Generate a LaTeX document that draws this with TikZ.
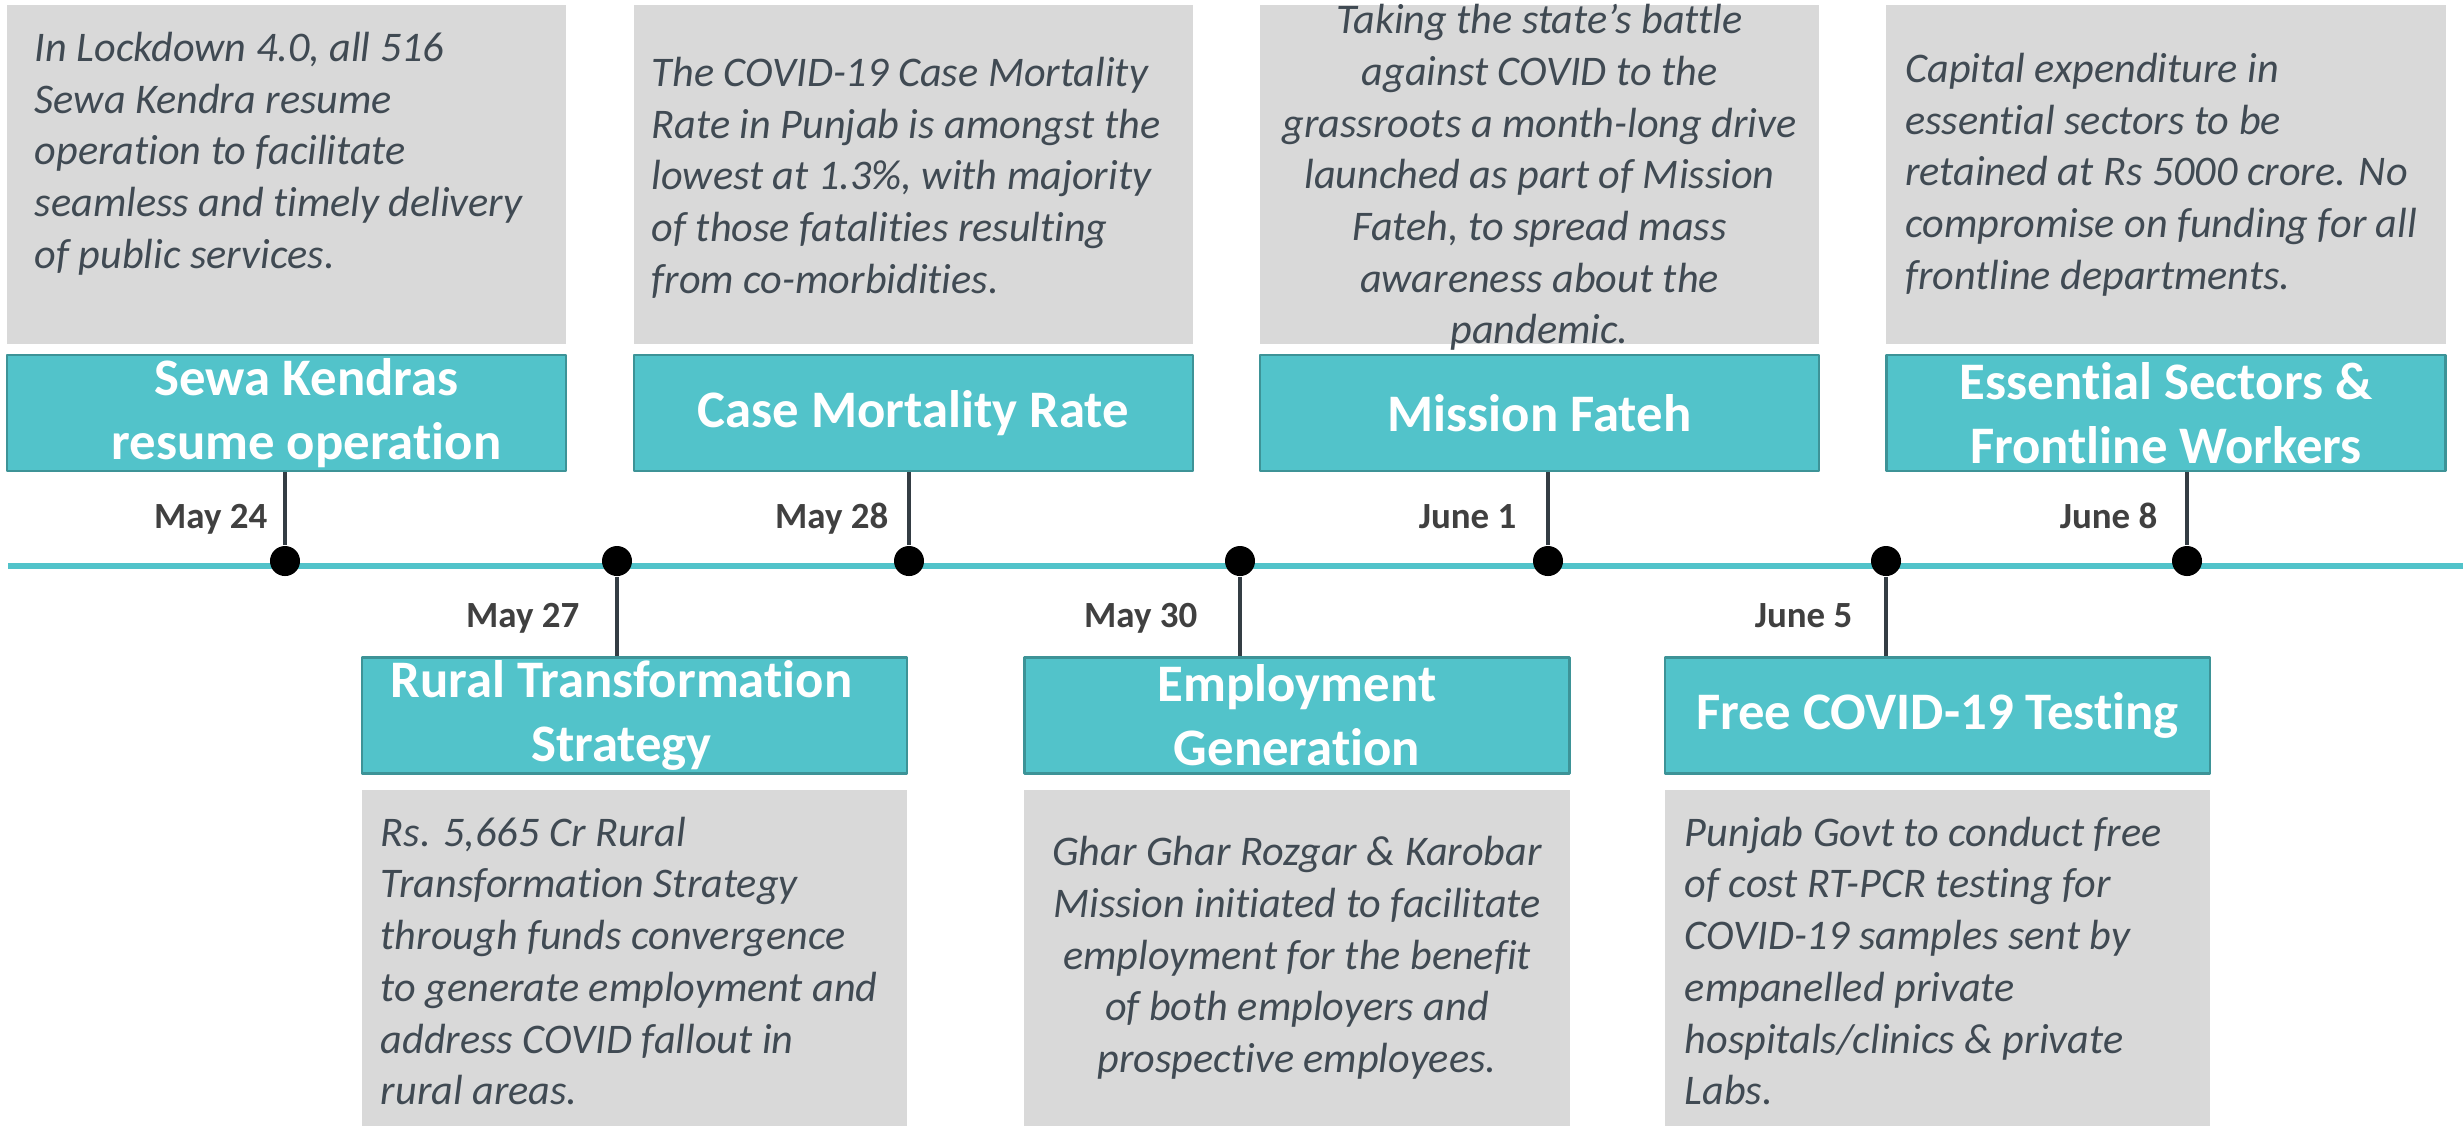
\documentclass[tikz,border=0pt]{standalone}
\usepackage{fontspec}
\setmainfont{Carlito}[Ligatures=NoCommon]
\definecolor{tealfill}{HTML}{52C3CA}
\definecolor{tealedge}{HTML}{3D9397}
\definecolor{notegray}{HTML}{D9D9D9}
\definecolor{notetext}{HTML}{404A53}
\definecolor{datetext}{HTML}{404040}
\definecolor{stemcol}{HTML}{343D44}
\begin{document}
\begin{tikzpicture}[x=0.01cm,y=-0.01cm,line join=round,
	title/.style={draw=tealedge,line width=0.7pt,fill=tealfill,text=white,font=\fontsize{15}{18.2}\selectfont\bfseries,align=center,minimum width=5.59cm,minimum height=1.16cm,inner sep=0pt},
	note/.style={fill=notegray,minimum width=5.59cm,minimum height=3.39cm,inner sep=0pt},
	low/.style={minimum width=5.45cm,minimum height=3.36cm},
	words/.style={text=notetext,font=\fontsize{12}{14.7}\selectfont\itshape,inner sep=0pt},
	date/.style={text=datetext,font=\fontsize{10.5}{12}\selectfont\bfseries,inner sep=0pt,anchor=base east},
	stem/.style={draw=stemcol,line width=1pt},
	dot/.style={circle,fill=black,minimum size=0.3cm,inner sep=0pt}]
			\useasboundingbox (0,0) rectangle (2463,1126);
			\coordinate (lineL) at (8,566);
			\coordinate (lineR) at (2463,566);
			\draw[tealfill,line width=0.06cm] (lineL)--(lineR);
			\node[note] (n1) at (286.5,174.5) {};
			\node[note] (n2) at (913.5,174.5) {};
			\node[note] (n3) at (1539.5,174.5) {};
			\node[note] (n4) at (2166,174.5) {};
			\node[note,low] (n5) at (634.5,958) {};
			\node[note,low] (n6) at (1297,958) {};
			\node[note,low] (n7) at (1937.5,958) {};
			\node[words,align=left,anchor=west] (w1) at ([xshift=0.28cm,yshift=0.21cm]n1.west) {In Lockdown 4.0, all 516\\Sewa Kendra resume\\operation to facilitate\\seamless and timely delivery\\of public services.};
			\node[words,align=left,anchor=west] (w2) at ([xshift=0.18cm,yshift=-0.03cm]n2.west) {The COVID-19 Case Mortality\\Rate in Punjab is amongst the\\lowest at 1.3\%, with majority\\of those fatalities resulting\\from co-morbidities.};
			\node[words,align=center] (w3) at ([yshift=-0.03cm]n3) {Taking the state’s battle\\against COVID to the\\grassroots a month-long drive\\launched as part of Mission\\Fateh, to spread mass\\awareness about the\\pandemic.};
			\node[words,align=left,anchor=west] (w4) at ([xshift=0.19cm]n4.west) {Capital expenditure in\\essential sectors to be\\retained at Rs 5000 crore. No\\compromise on funding for all\\frontline departments.};
			\node[words,align=left,anchor=west] (w5) at ([xshift=0.19cm,yshift=-0.03cm]n5.west) {Rs. 5,665 Cr Rural\\Transformation Strategy\\through funds convergence\\to generate employment and\\address COVID fallout in\\rural areas.};
			\node[words,align=center] (w6) at (n6) {Ghar Ghar Rozgar \& Karobar\\Mission initiated to facilitate\\employment for the benefit\\of both employers and\\prospective employees.};
			\node[words,align=left,anchor=west] (w7) at ([xshift=0.2cm,yshift=-0.03cm]n7.west) {Punjab Govt to conduct free\\of cost RT-PCR testing for\\COVID-19 samples sent by\\empanelled private\\hospitals/clinics \& private\\Labs.};
			\node[title] (t1) at (286.5,413) {\hspace*{0.4cm}Sewa Kendras\\\hspace*{0.4cm}resume operation};
			\node[title] (t2) at (913.5,413) {Case Mortality Rate};
			\node[title] (t3) at (1539.5,413) {Mission Fateh};
			\node[title] (t4) at (2166,413) {Essential Sectors \&\\Frontline Workers};
			\node[title,minimum width=5.45cm] (t5) at (634.5,715.5) {\hspace*{-0.26cm}Rural Transformation\\\hspace*{-0.26cm}Strategy};
			\node[title,minimum width=5.45cm] (t6) at (1297,715.5) {Employment\\Generation};
			\node[title,minimum width=5.45cm] (t7) at (1937.5,715.5) {Free COVID-19 Testing};
			\foreach \d/\xx in {d1/285,d2/617,d3/909,d4/1240,d5/1548,d6/1886,d7/2187}
			\node[dot] (\d) at (\xx,561) {};
			\draw[stem] (t1.south-|d1)--(d1);
			\draw[stem] (t2.south-|d3)--(d3);
			\draw[stem] (t3.south-|d5)--(d5);
			\draw[stem] (t4.south-|d7)--(d7);
			\draw[stem] (d2)--(t5.north-|d2);
			\draw[stem] (d4)--(t6.north-|d4);
			\draw[stem] (d6)--(t7.north-|d6);
			\node[date] (may24) at (268,528) {May 24};
			\node[date] (may28) at (889,528) {May 28};
			\node[date] (jun1) at (1517,528) {June 1};
			\node[date] (jun8) at (2158,528) {June 8};
			\node[date] (may27) at (580,627) {May 27};
			\node[date] (may30) at (1198,627) {May 30};
			\node[date] (jun5) at (1853,627) {June 5};
\end{tikzpicture}
\end{document}
